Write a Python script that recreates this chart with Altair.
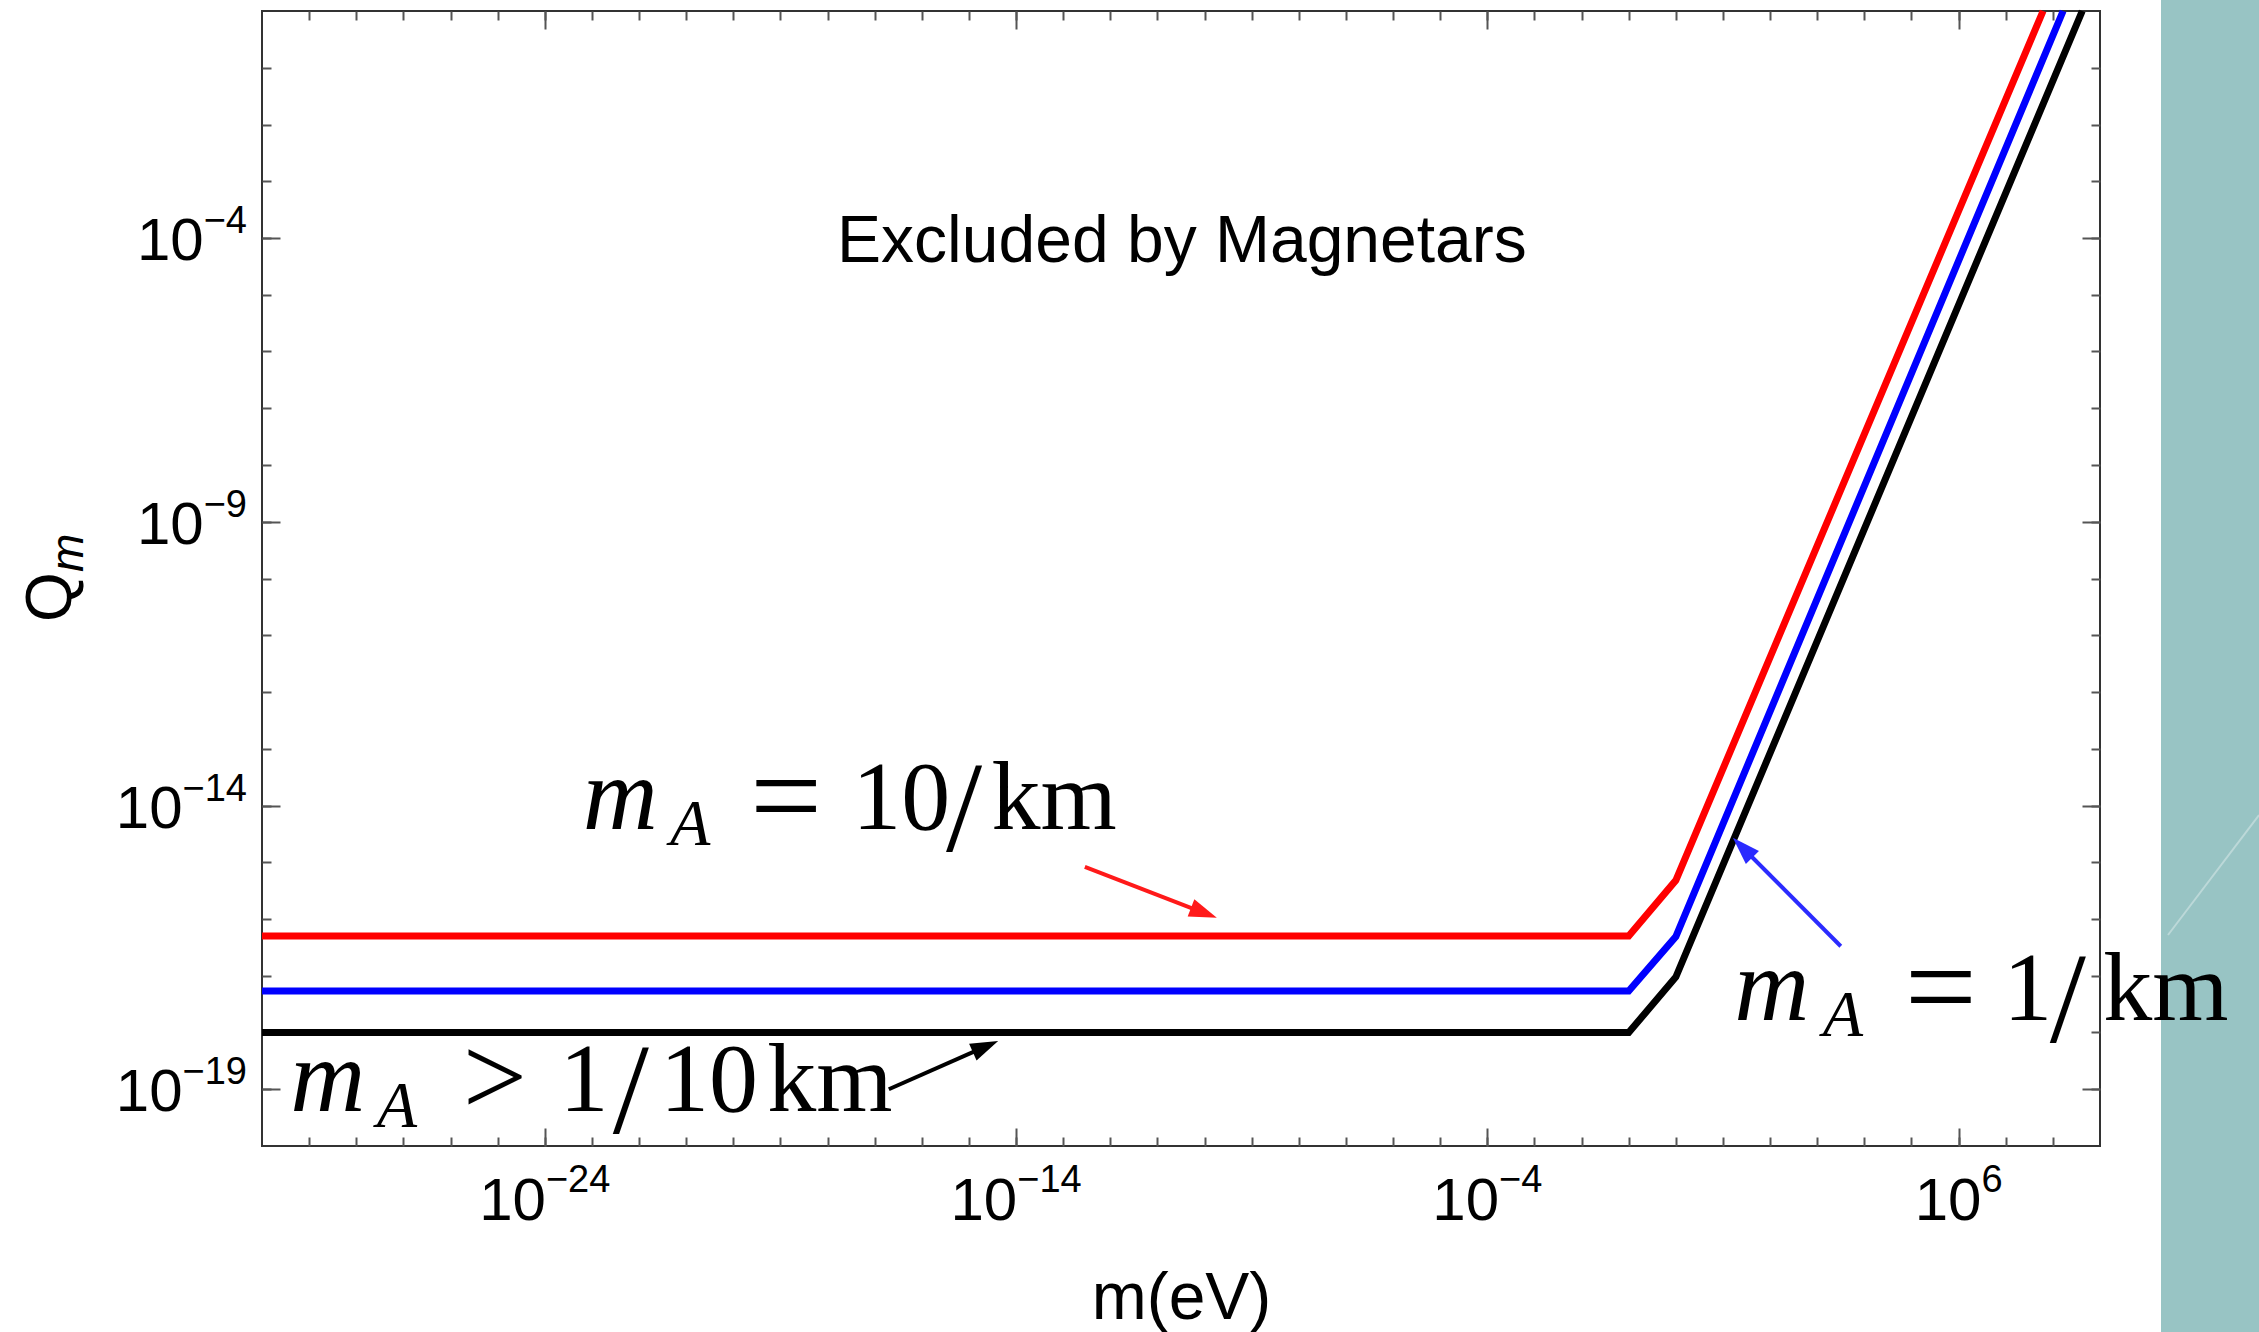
import math
import altair as alt
import pandas as pd

# ---------------- layout ----------------
W, H = 1838, 1135
PAD = {"left": 262, "top": 11, "right": 159, "bottom": 186}
X_DOMAIN = [1e-30, 1e9]
Y_DOMAIN = [1e-20, 1.0]
PXX = W / 39.0   # pixels per decade (x)
PXY = H / 20.0   # pixels per decade (y)

# ---------------- data ----------------
series_names = ["m_A = 10/km", "m_A = 1/km", "m_A > 1/10 km"]
series_colors = ["#ff0000", "#0000ff", "#000000"]

m_red = [1e-30, 0.1, 1.0, 6.2e7]
q_red = [5.0e-17, 5.0e-17, 4.8e-16, 1.0]
m_blue = [1e-30, 0.1, 1.0, 1.65e8]
q_blue = [5.4e-18, 5.4e-18, 4.9e-17, 1.0]
m_black = [1e-30, 0.1, 1.0, 4.2e8]
q_black = [1.0e-18, 1.0e-18, 9.5e-18, 1.0]

x_label_ticks = [1e-24, 1e-14, 1e-4, 1e6]
y_label_ticks = [1e-19, 1e-14, 1e-9, 1e-4]
x_minor_ticks = [10.0 ** k for k in range(-29, 9)]
y_minor_ticks = [10.0 ** k for k in range(-19, 0)]

x_title = "m(eV)"
y_title_main = "Q"
y_title_sub = "m"
y_title_pos = (10 ** -34.05, 10 ** -10.33)
y_title_sub_pos = (10 ** -33.80, 10 ** -9.55)

title_text = "Excluded by Magnetars"
title_pos = (10 ** -10.48, 10 ** -4.43)

# annotation anchors (left of "m", baseline), in data coordinates
label_anchor_x = [10 ** -23.27, 10 ** 1.23, 10 ** -29.45]
label_anchor_y = [10 ** -14.42, 10 ** -17.78, 10 ** -19.38]
label_relation = ["=", "=", ">"]
label_numer = ["10", "1", "1"]
label_denom = ["km", "km", "10"]
label_unit = [None, None, "km"]

# arrows (tail -> tip), data coordinates
arrow_tail_x = [10 ** -12.54, 10 ** 3.50, 10 ** -16.70]
arrow_tail_y = [10 ** -15.08, 10 ** -16.48, 10 ** -19.00]
arrow_tip_x = [10 ** -9.74, 10 ** 1.21, 10 ** -14.38]
arrow_tip_y = [10 ** -15.98, 10 ** -14.57, 10 ** -18.15]
arrow_colors = ["#ff1a1a", "#2b2bff", "#000000"]

# ---------------- build tables ----------------
rows = []
for name, ms, qs in zip(series_names, [m_red, m_blue, m_black], [q_red, q_blue, q_black]):
    for i, (m, q) in enumerate(zip(ms, qs)):
        rows.append({"series": name, "m": m, "Q": q, "order": i})
lines_df = pd.DataFrame(rows)

xs = alt.Scale(type="log", domain=X_DOMAIN, nice=False)
ys = alt.Scale(type="log", domain=Y_DOMAIN, nice=False)

FONT = "Liberation Sans"
SERIF = "Liberation Serif"


def X(field):
    return alt.X(field, type="quantitative", scale=xs, axis=None)


def Y(field):
    return alt.Y(field, type="quantitative", scale=ys, axis=None)


x_title_axis = alt.Axis(
    orient="bottom", values=x_label_ticks, labels=False, ticks=False, tickSize=0,
    domain=False, grid=False,
    title=x_title, titleFont=FONT, titleFontSize=66, titleFontWeight="normal",
    titleColor="black", titleY=172, titleBaseline="alphabetic",
)


def tick_axis(orient, values, size, offset):
    return alt.Axis(orient=orient, values=values, labels=False, ticks=True,
                    tickSize=size, tickWidth=2, tickColor="#555555",
                    domain=False, grid=False, title=None, offset=offset)


dummy = pd.DataFrame({"m": X_DOMAIN, "Q": Y_DOMAIN})


def axis_layer(xaxis, yaxis):
    return alt.Chart(dummy).mark_point(opacity=0).encode(
        x=alt.X("m:Q", scale=xs, axis=xaxis),
        y=alt.Y("Q:Q", scale=ys, axis=yaxis),
    )


MAJ, MIN = 18, 9
axis_layers = [
    axis_layer(tick_axis("top", x_label_ticks, MAJ, -H), tick_axis("right", y_label_ticks, MAJ, -W)),
    axis_layer(tick_axis("top", x_minor_ticks, MIN, -H), tick_axis("right", y_minor_ticks, MIN, -W)),
    axis_layer(tick_axis("bottom", x_label_ticks, MAJ, -H), tick_axis("left", y_label_ticks, MAJ, -W)),
    axis_layer(tick_axis("bottom", x_minor_ticks, MIN, -H), tick_axis("left", y_minor_ticks, MIN, -W)),
]

lines = alt.Chart(lines_df).mark_line(strokeWidth=7, strokeJoin="miter").encode(
    x=alt.X("m:Q", scale=xs, axis=x_title_axis),
    y=Y("Q"),
    color=alt.Color("series:N", scale=alt.Scale(domain=series_names, range=series_colors), legend=None),
    order="order:Q",
    detail="series:N",
)

# ---- tick labels: "10" with a raised exponent, placed at the tick values ----
BASE_FS, EXP_FS = 60, 38
ADV = {c: 0.556 for c in "0123456789"}
ADV["−"] = 0.584
BASE_W = 1.112 * BASE_FS


def exp_str(v):
    return str(round(math.log10(v))).replace("-", "−")


def exp_w(s):
    return sum(ADV[c] for c in s) * EXP_FS


xb, xe, yb, ye = [], [], [], []
for v in x_label_ticks:
    s = exp_str(v)
    T = BASE_W + exp_w(s)
    xb.append({"x": v * 10 ** ((-T / 2 + BASE_W / 2) / PXX), "y": Y_DOMAIN[0], "t": "10"})
    xe.append({"x": v * 10 ** ((-T / 2 + BASE_W) / PXX), "y": Y_DOMAIN[0], "t": s})
GAP = 15
for v in y_label_ticks:
    s = exp_str(v)
    ye.append({"x": X_DOMAIN[0] * 10 ** (-GAP / PXX), "y": v, "t": s})
    yb.append({"x": X_DOMAIN[0] * 10 ** (-(GAP + exp_w(s)) / PXX), "y": v, "t": "10"})


def tick_text(rows_, size, align, dy):
    return alt.Chart(pd.DataFrame(rows_)).mark_text(
        font=FONT, fontSize=size, align=align, baseline="alphabetic", dy=dy, color="black"
    ).encode(x=X("x"), y=Y("y"), text="t:N")


tick_label_layers = [
    tick_text(xb, BASE_FS, "center", 74),
    tick_text(xe, EXP_FS, "left", 46),
    tick_text(yb, BASE_FS, "right", 22),
    tick_text(ye, EXP_FS, "right", -5),
]

# y-axis title  Q_m
ytitle_layers = [
    alt.Chart(pd.DataFrame({"x": [y_title_pos[0]], "y": [y_title_pos[1]], "t": [y_title_main]})).mark_text(
        font=FONT, fontSize=64, angle=270, align="center", baseline="alphabetic", color="black"
    ).encode(x=X("x"), y=Y("y"), text="t:N"),
    alt.Chart(pd.DataFrame({"x": [y_title_sub_pos[0]], "y": [y_title_sub_pos[1]], "t": [y_title_sub]})).mark_text(
        font=FONT, fontSize=46, fontStyle="italic", angle=270, align="center", baseline="alphabetic",
        color="black"
    ).encode(x=X("x"), y=Y("y"), text="t:N"),
]

# ---- arrows ----
arows = []
BACK = 14
for tx, ty, hx, hy, c in zip(arrow_tail_x, arrow_tail_y, arrow_tip_x, arrow_tip_y, arrow_colors):
    lx0, ly0, lx1, ly1 = map(math.log10, (tx, ty, hx, hy))
    dxp = (lx1 - lx0) * PXX
    dyp = -(ly1 - ly0) * PXY
    L = math.hypot(dxp, dyp)
    ang = math.degrees(math.atan2(dxp, -dyp)) % 360
    ex = lx1 - (dxp / L * BACK) / PXX
    ey = ly1 + (dyp / L * BACK) / PXY
    arows.append({"x": tx, "y": ty, "x2": 10 ** ex, "y2": 10 ** ey,
                  "hx": hx, "hy": hy, "angle": ang, "color": c})
arrow_df = pd.DataFrame(arows)

arrow_shafts = alt.Chart(arrow_df).mark_rule(strokeWidth=4).encode(
    x=X("x"), y=Y("y"), x2="x2:Q", y2="y2:Q", color=alt.Color("color:N", scale=None),
)
arrow_heads = alt.Chart(arrow_df).mark_point(
    shape="M0,0L0.9,2.7L-0.9,2.7Z", filled=True, size=420, opacity=1, strokeWidth=0
).encode(
    x=X("hx"), y=Y("hy"),
    angle=alt.Angle("angle:Q", scale=None), color=alt.Color("color:N", scale=None),
)

# ---- math labels (pieces placed relative to anchors) ----
piece_dx = [
    {"m": 41, "A": 111, "rel": 207, "num": 322, "slash": 385, "den": 475},
    {"m": 38, "A": 109, "rel": 207, "num": 294, "slash": 334, "den": 432},
    {"m": 40, "A": 109, "rel": 207, "num": 296, "slash": 343, "den": 421, "unit": 542},
]
pieces = {"italic": [], "sub": [], "roman": [], "eq": [], "gt": [], "slash": []}
for i in range(3):
    ax, ay = label_anchor_x[i], label_anchor_y[i]
    d = piece_dx[i]

    def px(off):
        return ax * 10 ** (off / PXX)

    pieces["italic"].append({"x": px(d["m"]), "y": ay, "t": "m"})
    pieces["sub"].append({"x": px(d["A"]), "y": ay, "t": "A"})
    rel_kind = "eq" if label_relation[i] == "=" else "gt"
    pieces[rel_kind].append({"x": px(d["rel"]), "y": ay, "t": label_relation[i]})
    pieces["roman"].append({"x": px(d["num"]), "y": ay, "t": label_numer[i]})
    pieces["slash"].append({"x": px(d["slash"]), "y": ay, "t": "/"})
    pieces["roman"].append({"x": px(d["den"]), "y": ay, "t": label_denom[i]})
    if label_unit[i]:
        pieces["roman"].append({"x": px(d["unit"]), "y": ay, "t": label_unit[i]})

piece_style = {
    "italic": dict(fontSize=104, fontStyle="italic", dy=0),
    "sub": dict(fontSize=66, fontStyle="italic", dy=16),
    "roman": dict(fontSize=98, fontStyle="normal", dy=0),
    "eq": dict(fontSize=128, fontStyle="normal", dy=9),
    "gt": dict(fontSize=114, fontStyle="normal", dy=4),
    "slash": dict(fontSize=130, fontStyle="normal", dy=22),
}
text_layers = []
for k, rows_k in pieces.items():
    text_layers.append(
        alt.Chart(pd.DataFrame(rows_k)).mark_text(
            font=SERIF, align="center", baseline="alphabetic", color="black", **piece_style[k]
        ).encode(x=X("x"), y=Y("y"), text="t:N")
    )

title_layer = alt.Chart(pd.DataFrame({"x": [title_pos[0]], "y": [title_pos[1]], "t": [title_text]})).mark_text(
    font=FONT, fontSize=66, align="center", baseline="alphabetic", color="black"
).encode(x=X("x"), y=Y("y"), text="t:N")

# decorative teal side panel of the slide
deco = pd.DataFrame({"a": [0]})
teal = alt.Chart(deco).mark_rect(color="#98c4c4").encode(
    x=alt.value(1899), x2=alt.value(2010), y=alt.value(-11), y2=alt.value(1330)
)
streak = alt.Chart(deco).mark_rule(color="white", opacity=0.35, strokeWidth=2).encode(
    x=alt.value(1997), y=alt.value(804), x2=alt.value(1906), y2=alt.value(924)
)

chart = alt.layer(
    teal, streak, *axis_layers, lines, arrow_shafts, arrow_heads,
    *tick_label_layers, *ytitle_layers, *text_layers, title_layer
).resolve_axis(x="independent", y="independent").properties(
    width=W, height=H, padding=PAD, autosize=alt.AutoSizeParams(type="none"), background="white"
).configure_view(stroke="#333333", strokeWidth=2)

chart.save("out.html", embed_options={"renderer": "svg", "actions": False})
